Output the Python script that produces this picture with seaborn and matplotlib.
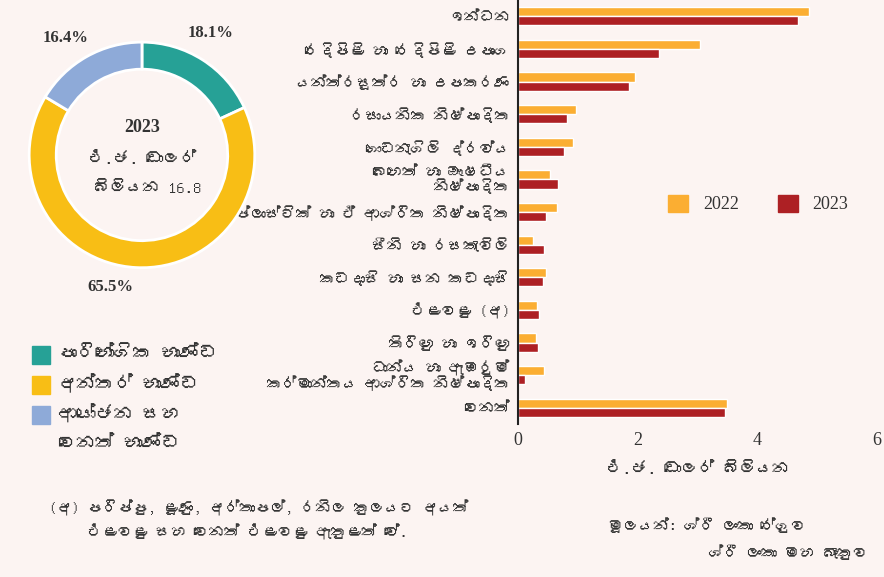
import pandas as pd
import seaborn as sns
import matplotlib.pyplot as plt
from matplotlib import font_manager
from matplotlib.ft2font import FT2Font
from matplotlib.patches import Patch, Rectangle

# data (US$ bn)
items = ["ඉන්ධන", "රෙදිපිළි හා රෙදිපිළි උපාංග", "යන්ත්‍රසූත්‍ර හා උපකරණ",
         "රසායනික නිෂ්පාදිත", "ගොඩනැගිලි ද්‍රව්‍ය", "බෙහෙත් හා ඖෂධීය\nනිෂ්පාදිත",
         "ප්ලාස්ටික් හා ඒ ආශ්‍රිත නිෂ්පාදිත", "සීනි හා රසකැවිලි", "කඩදාසි හා සන කඩදාසි",
         "එළවළු (අ)", "තිරිඟු හා ඉරිඟු", "ධාන්‍ය හා ඇඹරුම්\nකර්මාන්තය ආශ්‍රිත නිෂ්පාදිත", "වෙනත්"]
val_2022 = [4.87, 3.04, 1.96, 0.97, 0.92, 0.53, 0.65, 0.25, 0.47, 0.32, 0.30, 0.43, 3.50]
val_2023 = [4.68, 2.36, 1.86, 0.82, 0.77, 0.67, 0.47, 0.43, 0.42, 0.35, 0.33, 0.12, 3.46]
years = ["2022", "2023"]

pie_labels = ["පාරිභෝගික භාණ්ඩ", "අන්තර් භාණ්ඩ", "ආයෝජන සහ\nවෙනත් භාණ්ඩ"]
pie_share = [18.1, 65.5, 16.4]
total_2023 = 16.8

note = "(අ) පරිප්පු, ළූණු, අර්තාපල්, රනිල කුලයට අයත්\n     එළවළු සහ වෙනත් එළවළු ඇතුළත් වේ."
source = ["මූලයන්: ශ්‍රී ලංකා රේගුව", "ශ්‍රී ලංකා මහ බැංකුව"]

bg = "#fcf4f2"
c2022, c2023 = "#fbae32", "#ad2024"
pie_colors = ["#26a196", "#f8be15", "#8eaad8"]
txt = "#333333"

# find a font that can show Sinhala, if any is installed
sin_font = None
for f in font_manager.fontManager.ttflist:
    try:
        if 0x0DC3 in FT2Font(f.fname).get_charmap():
            sin_font = f.name
            break
    except Exception:
        pass
fam = [sin_font, "DejaVu Sans"] if sin_font else ["DejaVu Sans"]
serif = ["Liberation Serif", "DejaVu Serif"]


def show(s):
    # matplotlib does no shaping, the zero width joiner would draw as a box
    return s.replace("\u200d", "")


sns.set_style("white")
plt.rcParams["font.family"] = fam
plt.rcParams["text.color"] = txt

df = pd.DataFrame({"item": [show(s) for s in items] * 2,
                   "value": val_2022 + val_2023,
                   "year": [years[0]] * len(items) + [years[1]] * len(items)})

fig = plt.figure(figsize=(8.84, 5.77), dpi=100, facecolor=bg)

# bar chart
ax = fig.add_axes([0.586, 0.265, 0.406, 0.735])
ax.set_facecolor(bg)
sns.barplot(data=df, y="item", x="value", hue="year", palette=[c2022, c2023],
            orient="h", width=0.56, gap=0, saturation=1, ax=ax, legend=False)
ax.set_xlim(0, 6)
ax.set_xticks([0, 2, 4, 6])
ax.set_xticklabels(["0", "2", "4", "6"], family=serif, fontsize=13, color=txt)
ax.set_ylabel("")
ax.set_xlabel("එ.ජ. ඩොලර් බිලියන", fontsize=12, color=txt, labelpad=8)
ax.tick_params(axis="y", length=0, labelsize=11, labelcolor=txt, pad=6)
ax.tick_params(axis="x", length=0, pad=6)
for lab in ax.get_yticklabels():
    lab.set_linespacing(0.95)
for s in ["top", "right", "bottom"]:
    ax.spines[s].set_visible(False)
ax.spines["left"].set_color("#222222")
ax.spines["left"].set_linewidth(1.5)

handles = [Patch(color=c2022), Patch(color=c2023)]
ax.legend(handles, years, ncol=2, frameon=False, loc="center",
          bbox_to_anchor=(0.67, 0.519), prop={"family": serif, "size": 13},
          handlelength=1.1, handleheight=1.1, columnspacing=2.2, handletextpad=0.8)

# donut, centre near (142, 155) px
ax2 = fig.add_axes([0.0011, 0.487, 0.319, 0.489])
ax2.set_facecolor(bg)
ax2.pie(pie_share, colors=pie_colors, startangle=90, counterclock=False,
        radius=1.0, wedgeprops={"width": 0.24, "edgecolor": "white", "linewidth": 2})
ax2.set_aspect("equal")
ax2.set_xlim(-1.25, 1.25)
ax2.set_ylim(-1.25, 1.25)
ax2.axis("off")

ax2.text(0, 0.24, "2023", ha="center", va="center", family=serif,
         fontsize=13, fontweight="bold")
ax2.text(0, -0.03, "එ.ජ. ඩොලර්", ha="center", va="center", fontsize=12)
ax2.text(0.05, -0.29, "බිලියන " + str(total_2023), ha="center", va="center", fontsize=12)

pct_pos = [(0.61, 1.08), (-0.28, -1.17), (-0.68, 1.035)]
for p, (x, y) in zip(pie_share, pct_pos):
    ax2.text(x, y, f"{p}%", ha="center", va="center", family=serif,
             fontsize=12, fontweight="bold")

# donut legend, square next to the first line of each label
row_y = [0.385, 0.334, 0.282]
for c, lab, y in zip(pie_colors, pie_labels, row_y):
    fig.patches.append(Rectangle((0.036, y - 0.016), 0.0205, 0.031, color=c,
                                 transform=fig.transFigure, figure=fig))
    fig.text(0.066, y, show(lab), fontsize=13.5, va="top", linespacing=1.75,
             transform=fig.transFigure).set_y(y + 0.019)

# notes
fig.text(0.055, 0.099, show(note), fontsize=11, va="center", linespacing=1.6)
fig.text(0.688, 0.09, show(source[0]), fontsize=11, va="center")
fig.text(0.982, 0.043, show(source[1]), fontsize=11, va="center", ha="right")

fig.savefig("out.png", dpi=100, facecolor=bg)
